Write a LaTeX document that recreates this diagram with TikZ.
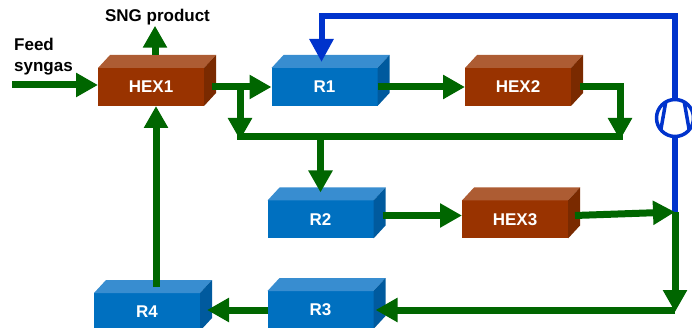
\documentclass[tikz,border=0pt]{standalone}
\usepackage{fontspec}
\setmainfont{Liberation Sans}
\usetikzlibrary{arrows.meta}

\definecolor{brownfront}{HTML}{993300}
\definecolor{browntop}{HTML}{AD5C33}
\definecolor{brownside}{HTML}{7A2A00}
\definecolor{bluefront}{HTML}{0070C0}
\definecolor{bluetop}{HTML}{388DD0}
\definecolor{blueside}{HTML}{005A9E}
\definecolor{flowgreen}{HTML}{006600}
\definecolor{loopblue}{HTML}{0033CC}

\begin{document}
\begin{tikzpicture}[x=1pt, y=-1pt,
    unit/.style={minimum width=106pt, minimum height=38pt, inner sep=0pt, outer sep=0pt,
        text=white, font=\bfseries\fontsize{17}{20}\selectfont},
    streamtext/.style={inner sep=0pt, align=left, font=\bfseries\fontsize{17}{21}\selectfont},
    flow/.style={flowgreen, line width=7pt, -{Triangle[length=22pt, width=23pt]}},
    pipe/.style={flowgreen, line width=7pt},
    recycle/.style={loopblue, line width=6pt}]
        \useasboundingbox (0,0) rectangle (692,328);

        % Reactors and heat exchangers
        \foreach \n/\x/\y/\t/\col in {hexone/151/87/HEX1/brown, rone/324.5/87/R1/blue,
                hextwo/518/87/HEX2/brown, rtwo/320.5/219.5/R2/blue, hexthree/515/219.5/HEX3/brown,
                rthree/320.5/310/R3/blue, rfour/147/312/R4/blue} {
            \node[unit, fill=\col front] (\n) at (\x,\y) {\t};
            \fill[\col top] (\n.north west) -- ++(12,-13) -- ([shift={(12,-13)}]\n.north east)
                -- (\n.north east) -- cycle;
            \fill[\col side] (\n.north east) -- ++(12,-13) -- ([shift={(12,-13)}]\n.south east)
                -- (\n.south east) -- cycle;
        }

        % Feed and product
        \node[streamtext, anchor=north west] (feed) at (14,38) {Feed\\syngas};
        \coordinate (inlet) at (12,85);
        \draw[flow] (inlet) -- (inlet -| hexone.west);
        \node[streamtext, anchor=base] (sng) at (157.5,22) {SNG product};
        \draw[flow] ([xshift=4pt, yshift=13pt]hexone.north) -- ([xshift=4pt]hexone.north |- sng.south);

        % Recycle loop with compressor
        \node[draw=loopblue, line width=3.5pt, circle, minimum size=37pt, inner sep=0pt, outer sep=0pt]
            (comp) at (675,118) {};
        \draw[loopblue, line width=3.5pt] (comp.120) -- (comp.220) (comp.60) -- (comp.320);
        \coordinate (loop) at (321.5,16.5);
        \coordinate (tee) at (675,212);
        \draw[recycle, -{Triangle[length=23pt, width=23pt]}] (comp.north) |- (loop) -- (321.5,62);
        \draw[recycle] (comp.south) -- (comp.south |- tee);

        % Top row
        \coordinate (split) at (240,87);
        \draw[pipe] (237,137) -- (623,137);
        \draw[flow] ([xshift=8pt]hexone.east) -- (rone.west);
        \draw[flow] (split) -- (240,140);
        \draw[flow] (rone.east) -- (hextwo.west);
        \draw[flow] ([xshift=9pt]hextwo.east) -| (620,140);

        % Middle row
        \draw[flow] (rtwo.north |- 0,137) -- ([yshift=8pt]rtwo.north);
        \draw[flow] ([xshift=9pt, yshift=4pt]rtwo.east) -- ([yshift=4pt]hexthree.west);
        \draw[flow] ([xshift=7pt, yshift=4pt]hexthree.east) -- (tee);

        % Bottom row
        \draw[flow] (tee) -- (675,312);
        \draw[flow] (tee |- rthree.east) -- ([xshift=2pt]rthree.east);
        \draw[flow] (rthree.west) -- ([xshift=7pt]rfour.east |- rthree.west);
        \draw[flow] ([xshift=9pt, yshift=6pt]rfour.north) -- ([xshift=5pt]hexone.south);

    \end{tikzpicture}
\end{document}
